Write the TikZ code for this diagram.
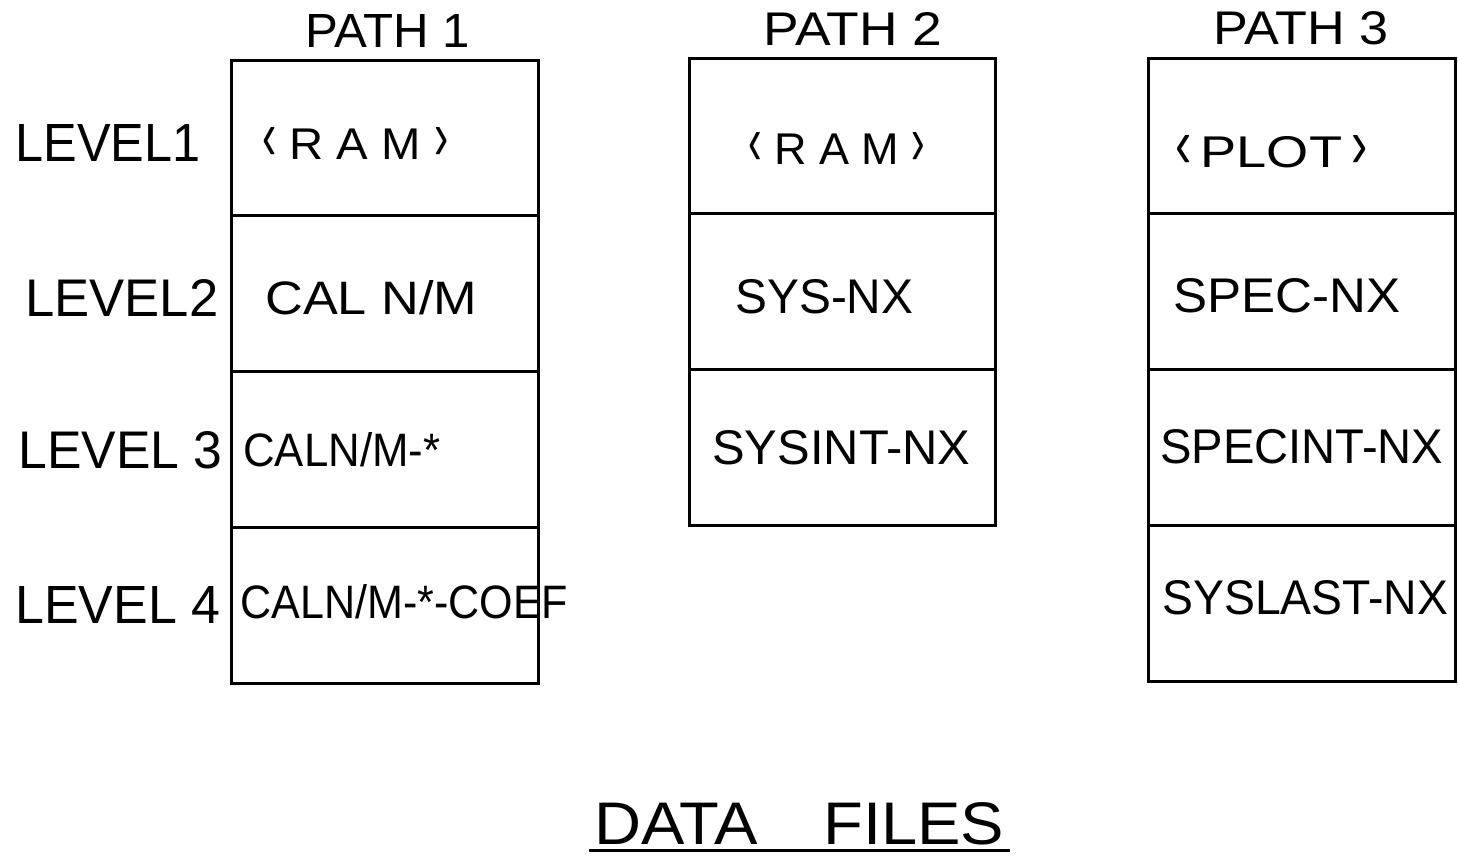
\documentclass[tikz,border=0pt]{standalone}
\usepackage{fontspec}
\usepackage{graphicx}
\setmainfont{Liberation Sans}
\usetikzlibrary{positioning}

% hand lettered text, squeezed to a given width and cap height
\newcommand{\lettered}[3]{\resizebox{#1}{#2}{#3}}
\newcommand{\lang}{\resizebox{0.3em}{0.72em}{‹}}
\newcommand{\rang}{\resizebox{0.3em}{0.72em}{›}}

\tikzset{
  cell/.style={draw, line width=1.7pt, minimum width=6.14cm, minimum height=3.12cm,
    inner sep=0pt, outer sep=0pt},
  lbl/.style={anchor=west, inner sep=0pt}
}

\begin{document}
\begin{tikzpicture}[x=0.02cm, y=-0.02cm]
\useasboundingbox (0,0) rectangle (1458,856);

% path 1
\node[cell] (p1a) at (385,138) {};
\node[cell, below=0pt of p1a] (p1b) {};
\node[cell, below=0pt of p1b] (p1c) {};
\node[cell, below=0pt of p1c] (p1d) {};
% path 2
\node[cell] (p2a) at (842.5,136) {};
\node[cell, below=0pt of p2a] (p2b) {};
\node[cell, below=0pt of p2b] (p2c) {};
% path 3
\node[cell] (p3a) at (1302,136) {};
\node[cell, below=0pt of p3a] (p3b) {};
\node[cell, below=0pt of p3b] (p3c) {};
\node[cell, below=0pt of p3c] (p3d) {};

\node[lbl] (path1) at (305,31) {\lettered{3.3cm}{0.66cm}{PATH 1}};
\node[lbl] (path2) at (763,29) {\lettered{3.58cm}{0.66cm}{PATH 2}};
\node[lbl] (path3) at (1213,28) {\lettered{3.5cm}{0.66cm}{PATH 3}};

\node[lbl] (lev1) at (15,143) {\lettered{3.7cm}{0.74cm}{LEVEL1}};
\node[lbl] (lev2) at (25,298) {\lettered{3.86cm}{0.74cm}{LEVEL2}};
\node[lbl] (lev3) at (18,450) {\lettered{4.08cm}{0.74cm}{LEVEL 3}};
\node[lbl] (lev4) at (15,605) {\lettered{4.1cm}{0.74cm}{LEVEL 4}};

\node[lbl] (t1a) at (262,143) {\lettered{3.72cm}{0.64cm}{\lang\ R A M \rang}};
\node[lbl] (t1b) at (265,298) {\lettered{4.24cm}{0.68cm}{CAL N/M}};
\node[lbl] (t1c) at (243,450) {\lettered{3.94cm}{0.68cm}{CALN/M-*}};
\node[lbl] (t1d) at (240,602) {\lettered{6.56cm}{0.68cm}{CALN/M-*-COEF}};

\node[lbl] (t2a) at (748,148) {\lettered{3.54cm}{0.64cm}{\lang\ R A M \rang}};
\node[lbl] (t2b) at (735,297) {\lettered{3.56cm}{0.68cm}{SYS-NX}};
\node[lbl] (t2c) at (712,448) {\lettered{5.16cm}{0.68cm}{SYSINT-NX}};

\node[lbl] (t3a) at (1175,152) {\lettered{3.84cm}{0.64cm}{\lang\,PLOT\,\rang}};
\node[lbl] (t3b) at (1173,296) {\lettered{4.54cm}{0.68cm}{SPEC-NX}};
\node[lbl] (t3c) at (1160,447) {\lettered{5.66cm}{0.68cm}{SPECINT-NX}};
\node[lbl] (t3d) at (1162,598) {\lettered{5.72cm}{0.68cm}{SYSLAST-NX}};

\node[lbl] (title) at (594,824) {\lettered{8.2cm}{0.84cm}{DATA\quad FILES}};
\draw[line width=1.7pt] ([xshift=-3pt, yshift=-2.5pt]title.south west) -- ([xshift=3pt, yshift=-2.5pt]title.south east);
\end{tikzpicture}
\end{document}
